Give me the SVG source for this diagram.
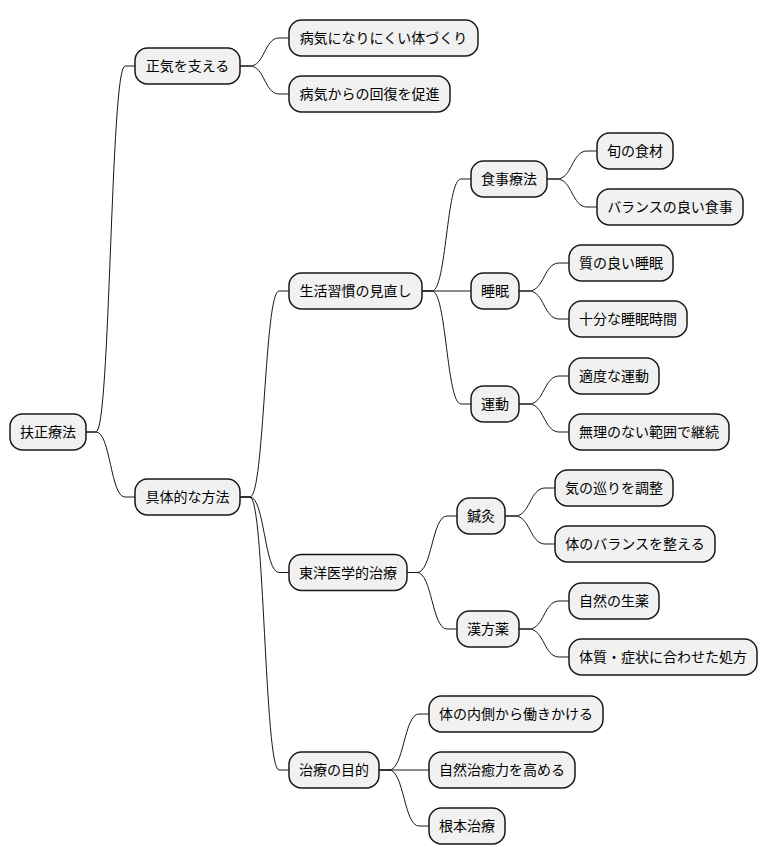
<svg xmlns="http://www.w3.org/2000/svg" width="768" height="865" viewBox="0 0 768 865">
<style>
.n rect{fill:#F1F1F1;stroke:#181818;stroke-width:1.5}
.n text{font-family:"Noto Sans CJK JP","Noto Sans",sans-serif;font-size:14px;fill:#000;text-anchor:middle}
#edges path{fill:none;stroke:#181818;stroke-width:1}
</style>
<rect width="768" height="865" fill="#FFFFFF"/>
<g id="edges">
<path d="M86,432 H96 C110.5,432 110.5,66 125,66 H135"/>
<path d="M86,432 H96 C110.5,432 110.5,497 125,497 H135"/>
<path d="M240,66 H250 C264.5,66 264.5,38 279,38 H289"/>
<path d="M240,66 H250 C264.5,66 264.5,94 279,94 H289"/>
<path d="M240,497 H250 C264.5,497 264.5,291 279,291 H289"/>
<path d="M240,497 H250 C264.5,497 264.5,572.5 279,572.5 H289"/>
<path d="M240,497 H250 C264.5,497 264.5,770 279,770 H289"/>
<path d="M422,291 H432 C446.5,291 446.5,179 461,179 H471"/>
<path d="M422,291 H471"/>
<path d="M422,291 H432 C446.5,291 446.5,404 461,404 H471"/>
<path d="M547,179 H557 C572,179 572,151 587,151 H597"/>
<path d="M547,179 H557 C572,179 572,207 587,207 H597"/>
<path d="M519,291 H529 C544,291 544,263 559,263 H569"/>
<path d="M519,291 H529 C544,291 544,319 559,319 H569"/>
<path d="M519,404 H529 C544,404 544,376 559,376 H569"/>
<path d="M519,404 H529 C544,404 544,432 559,432 H569"/>
<path d="M407,572.5 H417 C432,572.5 432,516 447,516 H457"/>
<path d="M407,572.5 H417 C432,572.5 432,629 447,629 H457"/>
<path d="M505,516 H515 C530,516 530,488 545,488 H555"/>
<path d="M505,516 H515 C530,516 530,544 545,544 H555"/>
<path d="M519,629 H529 C544,629 544,601 559,601 H569"/>
<path d="M519,629 H529 C544,629 544,657 559,657 H569"/>
<path d="M379,770 H389 C404,770 404,714 419,714 H429"/>
<path d="M379,770 H429"/>
<path d="M379,770 H389 C404,770 404,826 419,826 H429"/>
</g>
<g id="root" class="n"><rect x="10" y="414" width="76" height="36" rx="12.5"/><text x="48" y="437">扶正療法</text></g>
<g id="n1" class="n"><rect x="135" y="48" width="105" height="36" rx="12.5"/><text x="187.5" y="71">正気を支える</text></g>
<g id="n1a" class="n"><rect x="289" y="20" width="189" height="36" rx="12.5"/><text x="383.5" y="43">病気になりにくい体づくり</text></g>
<g id="n1b" class="n"><rect x="289" y="76" width="161" height="36" rx="12.5"/><text x="369.5" y="99">病気からの回復を促進</text></g>
<g id="n2" class="n"><rect x="135" y="479" width="105" height="36" rx="12.5"/><text x="187.5" y="502">具体的な方法</text></g>
<g id="n2a" class="n"><rect x="289" y="273" width="133" height="36" rx="12.5"/><text x="355.5" y="296">生活習慣の見直し</text></g>
<g id="n2a1" class="n"><rect x="471" y="161" width="76" height="36" rx="12.5"/><text x="509" y="184">食事療法</text></g>
<g id="n2a1a" class="n"><rect x="597" y="133" width="76" height="36" rx="12.5"/><text x="635" y="156">旬の食材</text></g>
<g id="n2a1b" class="n"><rect x="597" y="189" width="146" height="36" rx="12.5"/><text x="670" y="212">バランスの良い食事</text></g>
<g id="n2a2" class="n"><rect x="471" y="273" width="48" height="36" rx="12.5"/><text x="495" y="296">睡眠</text></g>
<g id="n2a2a" class="n"><rect x="569" y="245" width="104" height="36" rx="12.5"/><text x="621" y="268">質の良い睡眠</text></g>
<g id="n2a2b" class="n"><rect x="569" y="301" width="118" height="36" rx="12.5"/><text x="628" y="324">十分な睡眠時間</text></g>
<g id="n2a3" class="n"><rect x="471" y="386" width="48" height="36" rx="12.5"/><text x="495" y="409">運動</text></g>
<g id="n2a3a" class="n"><rect x="569" y="358" width="90" height="36" rx="12.5"/><text x="614" y="381">適度な運動</text></g>
<g id="n2a3b" class="n"><rect x="569" y="414" width="160" height="36" rx="12.5"/><text x="649" y="437">無理のない範囲で継続</text></g>
<g id="n2b" class="n"><rect x="289" y="554.5" width="118" height="36" rx="12.5"/><text x="348" y="577.5">東洋医学的治療</text></g>
<g id="n2b1" class="n"><rect x="457" y="498" width="48" height="36" rx="12.5"/><text x="481" y="521">鍼灸</text></g>
<g id="n2b1a" class="n"><rect x="555" y="470" width="118" height="36" rx="12.5"/><text x="614" y="493">気の巡りを調整</text></g>
<g id="n2b1b" class="n"><rect x="555" y="526" width="160" height="36" rx="12.5"/><text x="635" y="549">体のバランスを整える</text></g>
<g id="n2b2" class="n"><rect x="457" y="611" width="62" height="36" rx="12.5"/><text x="488" y="634">漢方薬</text></g>
<g id="n2b2a" class="n"><rect x="569" y="583" width="90" height="36" rx="12.5"/><text x="614" y="606">自然の生薬</text></g>
<g id="n2b2b" class="n"><rect x="569" y="639" width="188" height="36" rx="12.5"/><text x="663" y="662">体質・症状に合わせた処方</text></g>
<g id="n2c" class="n"><rect x="289" y="752" width="90" height="36" rx="12.5"/><text x="334" y="775">治療の目的</text></g>
<g id="n2c1" class="n"><rect x="429" y="696" width="174" height="36" rx="12.5"/><text x="516" y="719">体の内側から働きかける</text></g>
<g id="n2c2" class="n"><rect x="429" y="752" width="146" height="36" rx="12.5"/><text x="502" y="775">自然治癒力を高める</text></g>
<g id="n2c3" class="n"><rect x="429" y="808" width="76" height="36" rx="12.5"/><text x="467" y="831">根本治療</text></g>
</svg>
